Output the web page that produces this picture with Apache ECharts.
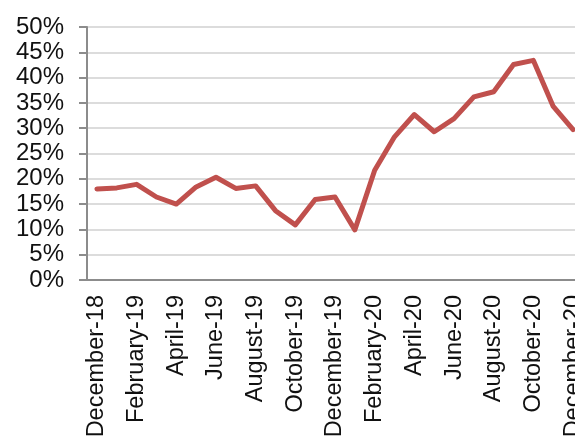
<!DOCTYPE html>
<html>
<head>
<meta charset="utf-8">
<script src="https://cdn.jsdelivr.net/npm/echarts@6/dist/echarts.min.js"></script>
<style>
  html, body { margin: 0; padding: 0; background: #fff; }
  #chart { width: 575px; height: 445px; }
</style>
</head>
<body>
<div id="chart"></div>
<script>
// months shown on the x axis
var months = [
	'December-18', 'January-19', 'February-19', 'March-19', 'April-19', 'May-19',
	'June-19', 'July-19', 'August-19', 'September-19', 'October-19', 'November-19',
	'December-19', 'January-20', 'February-20', 'March-20', 'April-20', 'May-20',
	'June-20', 'July-20', 'August-20', 'September-20', 'October-20', 'November-20',
	'December-20'
];

// share in percent
var values = [
	18.0, 18.2, 18.9, 16.4, 15.0, 18.4,
	20.3, 18.1, 18.6, 13.7, 10.9, 15.9,
	16.4, 9.9, 21.7, 28.3, 32.7, 29.3,
	31.9, 36.2, 37.2, 42.6, 43.4, 34.3,
	29.7
];

var myChart = echarts.init(document.getElementById('chart'));

var option = {
	animation: false,
	backgroundColor: '#fff',
	textStyle: { fontFamily: 'Liberation Sans, Arial, sans-serif' },
	// the plot runs past the right edge, as in the cropped original
	grid: {
		left: 87,
		width: 496,
		top: 27,
		height: 253,
		outerBoundsMode: 'none',
		containLabel: false
	},
	xAxis: {
		type: 'category',
		data: months,
		boundaryGap: true,
		axisLine: { lineStyle: { color: '#8c8c8c', width: 2 } },
		axisTick: {
			interval: 1,
			length: 7,
			lineStyle: { color: '#8c8c8c', width: 2 }
		},
		axisLabel: {
			interval: 1,
			rotate: 90,
			margin: 15,
			fontSize: 23.5,
			color: '#111'
		}
	},
	yAxis: {
		type: 'value',
		min: 0,
		max: 50,
		interval: 5,
		axisLine: { show: true, lineStyle: { color: '#8c8c8c', width: 2 } },
		axisTick: { show: true, length: 8, lineStyle: { color: '#8c8c8c', width: 2 } },
		axisLabel: {
			formatter: '{value}%',
			margin: 23,
			fontSize: 24,
			color: '#111'
		},
		splitLine: { lineStyle: { color: '#dcdcdc', width: 2 } }
	},
	series: [{
		type: 'line',
		data: values,
		symbol: 'none',
		lineStyle: { color: '#c0504d', width: 5, cap: 'round', join: 'round' },
		itemStyle: { color: '#c0504d' }
	}]
};

myChart.setOption(option);
</script>
</body>
</html>
